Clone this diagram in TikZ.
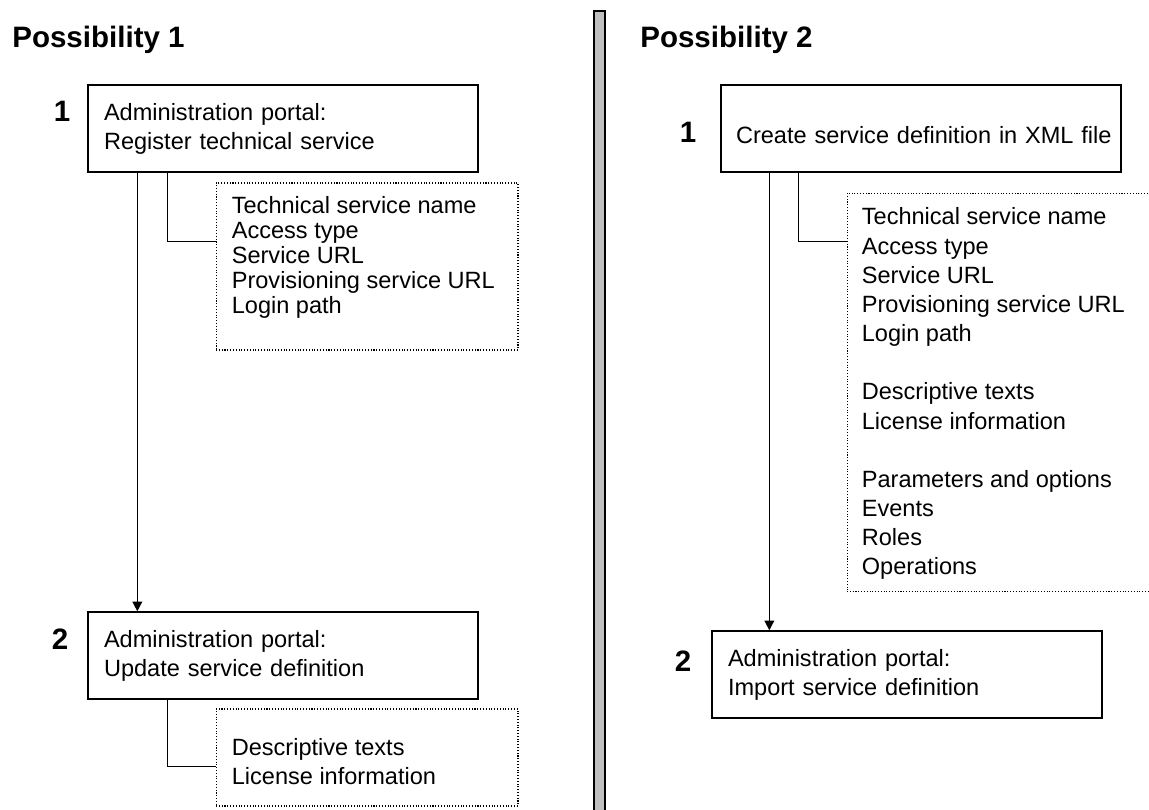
\documentclass[tikz,border=0pt]{standalone}
\usepackage{fontspec}
\setmainfont{Liberation Sans}
\usetikzlibrary{arrows.meta}

\begin{document}
\begin{tikzpicture}[x=0.02cm, y=-0.02cm,
  every node/.style={inner sep=0pt},
  stepbox/.style={draw, line width=0.8pt, align=left, inner xsep=0.32cm, text width=7.16cm,
    minimum height=1.74cm, font=\fontsize{13.4}{16.5}\selectfont},
  listframe/.style={draw, densely dotted, line width=0.6pt},
  items/.style={align=left, anchor=north west, font=\fontsize{13.4}{14.2}\selectfont},
  title/.style={anchor=base west, font=\fontsize{16.8}{20}\selectfont\bfseries},
  num/.style={anchor=base, font=\fontsize{16.8}{20}\selectfont\bfseries},
  flow/.style={line width=0.8pt, -{Triangle[length=5.5pt, width=5.5pt]}},
  branch/.style={line width=0.8pt}]
  \useasboundingbox (0,0) rectangle (1149,810);
  \clip (0,0) rectangle (1149,810);

  % separator
  \draw[fill=black!25, line width=1pt] (594,11) rectangle (605,830);

  % possibility 1
  \node[title] (poss1) at (12,48) {Possibility 1};
  \node[num] (n11) at (62,122) {1};
  \node[stepbox] (reg) at (283,128.5) {Administration portal:\\Register technical service};
  \node[listframe, minimum width=6.04cm, minimum height=3.34cm] (attrs) at (367,266.5) {};
  \node[items] (attrlist) at ([shift={(16,14)}]attrs.north west)
    {Technical service name\\Access type\\Service URL\\Provisioning service URL\\Login path};
  \node[num] (n12) at (60,649) {2};
  \node[stepbox] (upd) at (283,655.5) {Administration portal:\\Update service definition};
  \node[listframe, minimum width=6.04cm, minimum height=1.94cm] (desc) at (367,757.5) {};
  \node[items, font=\fontsize{13.4}{16}\selectfont] (desclist) at ([shift={(16,30)}]desc.north west)
    {Descriptive texts\\License information};

  \draw[flow] ([xshift=1cm]reg.south west) -- ([xshift=1cm]reg.south west |- upd.north);
  \draw[branch] ([xshift=1.6cm]reg.south west) |- ([yshift=-1.18cm]attrs.north west);
  \draw[branch] ([xshift=1.6cm]upd.south west) |- ([yshift=-1.16cm]desc.north west);

  % possibility 2
  \node[title] (poss2) at (640,48) {Possibility 2};
  \node[num] (n21) at (688,143) {1};
  \node[stepbox, inner xsep=0.3cm, text width=7.4cm, text height=0.6cm] (create) at (921,128.5)
    {\mbox{Create service definition in XML file}};
  \node[listframe, minimum width=6.16cm, minimum height=7.98cm] (full) at (1001,392.5) {};
  \node[items, font=\fontsize{13.4}{16.6}\selectfont] (fulllist) at ([shift={(15,15)}]full.north west)
    {Technical service name\\Access type\\Service URL\\Provisioning service URL\\Login path\\[16.6pt]
     Descriptive texts\\License information\\[16.6pt]
     Parameters and options\\Events\\Roles\\Operations};
  \node[num] (n22) at (683,671) {2};
  \node[stepbox] (imp) at (907,674.5) {Administration portal:\\Import service definition};

  \draw[flow] ([xshift=0.98cm]create.south west) -- ([xshift=0.98cm]create.south west |- imp.north);
  \draw[branch] ([xshift=1.56cm]create.south west) |- ([yshift=-0.98cm]full.north west);
\end{tikzpicture}
\end{document}
